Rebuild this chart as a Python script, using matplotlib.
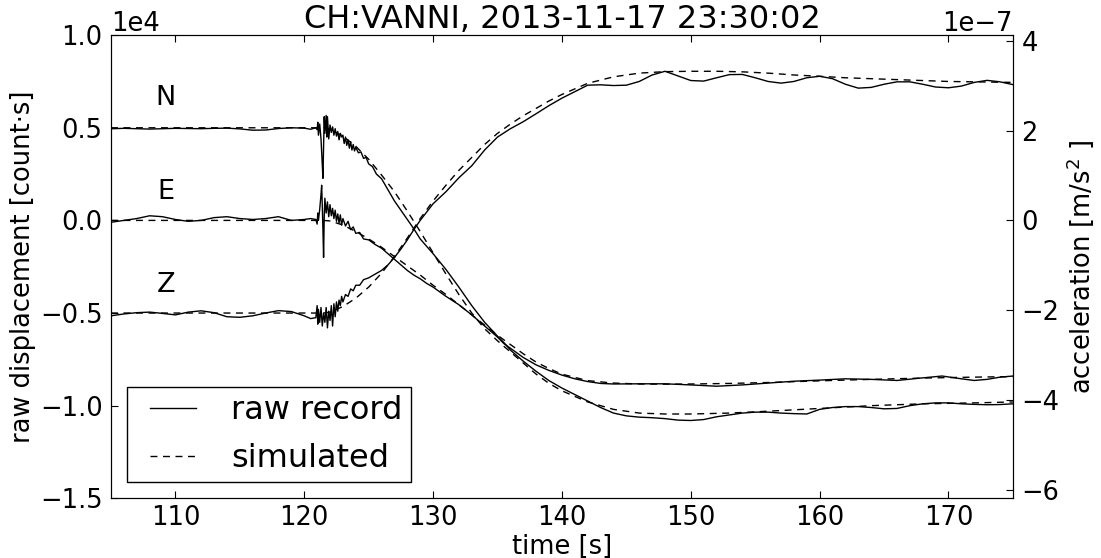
import numpy as np
import matplotlib
matplotlib.use('Agg')
import matplotlib.pyplot as plt
from matplotlib.ticker import MultipleLocator
from matplotlib.legend_handler import HandlerLine2D

# raw displacement [count*s]
t_pre = [105, 106, 107, 108, 109, 110, 111, 112, 113, 114, 115, 116, 117, 118, 119, 120, 120.5, 120.9]

n_pre = [4950, 4970, 4950, 4930, 4950, 4970, 4960, 4950, 4970, 4980, 4940, 4870, 4880, 4960, 5000, 4980, 4920, 5000]
e_pre = [-100, 0, 100, 250, 200, 50, -50, 0, 150, 200, 100, 50, 100, 200, 0, 50, 100, 50]
z_pre = [-5150, -5050, -4980, -4950, -5020, -5100, -4950, -4880, -4980, -5200, -5230, -5150, -5000, -4870, -4920, -5150, -5300, -5250]

n_t = [121.0, 121.05, 121.1, 121.2, 121.3, 121.4, 121.45, 121.5, 121.55, 121.6, 121.7, 121.75, 121.8, 121.9,
       122.0, 122.1, 122.2, 122.3, 122.4, 122.5, 122.6, 122.7, 122.8, 122.9, 123.0, 123.1, 123.2, 123.3, 123.4,
       123.5, 123.6, 123.7, 123.8, 123.9, 124.0, 124.2, 124.4, 124.6, 124.8, 125.0, 125.3, 125.6, 126.0, 126.5,
       127.0, 127.5, 128.0, 128.5, 129.0, 129.5, 130, 131, 132, 133, 134, 135, 135.5, 136, 137, 138, 139, 140,
       141, 142, 143, 144, 145, 146, 147, 148, 149, 150, 151, 152, 153, 154, 155, 156, 157, 158, 159, 160, 161,
       162, 163, 164, 165, 166, 167, 168, 169, 170, 171, 172, 173, 174, 175]
n_v = [4900, 5300, 4600, 5200, 4400, 3000, 2270, 4000, 5600, 4700, 5670, 4500, 5600, 4400,
       5150, 4750, 5050, 4600, 4950, 4550, 4800, 4350, 4700, 4500, 4600, 4150, 4500, 4050, 4350,
       3900, 4250, 3800, 4100, 3750, 3950, 3650, 3700, 3350, 3400, 3050, 2900, 2500, 2250, 1650,
       1050, 550, 50, -450, -1000, -1400, -1800, -2650, -3600, -4600, -5500, -6250, -6600, -7000, -7600, -8150, -8650, -9050,
       -9400, -9750, -10100, -10400, -10550, -10620, -10650, -10700, -10780, -10800, -10750, -10600, -10500, -10400, -10350, -10350, -10400, -10430, -10450, -10200, -10100,
       -10050, -10050, -10100, -10170, -10150, -10000, -9900, -9850, -9850, -9900, -9930, -9950, -9940, -9900]

e_t = [121.0, 121.05, 121.1, 121.2, 121.3, 121.35, 121.4, 121.45, 121.5, 121.55, 121.6, 121.7, 121.8, 121.9,
       122.0, 122.1, 122.2, 122.3, 122.4, 122.5, 122.6, 122.7, 122.8, 122.9, 123.0, 123.2, 123.4, 123.6, 123.8,
       124.0, 124.3, 124.6, 125.0, 125.5, 126.0, 126.5, 127.0, 127.5, 128.0, 128.5, 129.0, 129.5, 130, 131, 132,
       133, 134, 135, 135.5, 136, 137, 138, 139, 140, 141, 142, 143, 144, 146, 148, 150, 152, 154, 156, 158, 160,
       162, 164, 166, 168, 169.5, 171, 172, 173, 174, 175]
e_v = [-200, 400, 0, 600, 1400, 1900, 800, -500, -2000, 200, 1200, 400, 1000, 200,
       850, 250, 650, 100, 550, -50, 350, -150, 300, -250, 100, -300, -50, -500, -350,
       -700, -650, -1000, -1050, -1300, -1500, -1800, -2100, -2400, -2700, -2950, -3150, -3400, -3600, -4100, -4550,
       -5100, -5700, -6300, -6650, -6900, -7400, -7800, -8100, -8350, -8550, -8700, -8800, -8830, -8820, -8820, -8880, -8950, -8880, -8780, -8680, -8620,
       -8550, -8580, -8640, -8500, -8400, -8550, -8640, -8580, -8460, -8400]

z_t = [121.0, 121.05, 121.1, 121.2, 121.3, 121.4, 121.5, 121.6, 121.7, 121.8, 121.9,
       122.0, 122.1, 122.2, 122.3, 122.4, 122.5, 122.6, 122.7, 122.8, 122.9, 123.0, 123.2, 123.4, 123.6, 123.8,
       124.0, 124.3, 124.6, 125.0, 125.5, 126.0, 126.5, 127.0, 127.5, 128.0, 128.5, 129.0, 129.5, 130, 131, 132,
       133, 134, 135, 136, 137, 138, 139, 140, 141, 142, 143, 144, 145, 146, 147, 148, 149, 150, 151, 152, 153,
       154, 155, 156, 157, 158, 159, 160, 161, 162, 163, 164, 165, 166, 167, 168, 169, 170, 171, 172, 173, 174, 175]
z_v = [-4600, -5600, -4800, -5500, -4700, -5700, -5000, -5500, -4700, -5800, -4900,
       -5400, -4600, -5700, -4500, -5200, -4400, -4900, -4300, -4600, -4100, -4400, -4000, -4100, -3700, -3800,
       -3500, -3500, -3200, -3100, -2900, -2700, -2400, -2000, -1550, -1050, -500, 0, 450, 900, 1550, 2300,
       2950, 3800, 4500, 4950, 5330, 5760, 6200, 6600, 6950, 7300, 7320, 7280, 7300, 7500, 7850, 8050, 7800, 7550, 7520, 7700, 7870,
       7880, 7700, 7500, 7410, 7500, 7700, 7780, 7650, 7350, 7140, 7180, 7350, 7480, 7480, 7350, 7200, 7160, 7250, 7450, 7560, 7480, 7330]

# simulated traces
n_sim_t = [105, 121.5, 122, 123, 124, 125, 126, 127, 128, 129, 130, 131, 132, 133, 134, 135, 136, 137, 138, 139, 140,
           142, 144, 146, 148, 150, 153, 156, 160, 164, 168, 172, 175]
n_sim_v = [5000, 5000, 4920, 4550, 4000, 3300, 2450, 1550, 500, -600, -1750, -2900, -4000, -5000, -5850, -6500, -7100, -7700, -8300, -8800, -9200,
           -9800, -10200, -10400, -10450, -10450, -10400, -10300, -10150, -10000, -9900, -9850, -9800]
e_sim_t = [105, 121.5, 122, 123, 124, 125, 126, 127, 128, 129, 130, 131, 132, 133, 134, 135, 136, 137, 138, 139, 140,
           142, 144, 146, 148, 150, 153, 156, 160, 164, 168, 172, 175]
e_sim_v = [0, 0, -30, -250, -600, -1000, -1450, -1950, -2450, -2950, -3500, -4000, -4550, -5100, -5650, -6200, -6700, -7200, -7650, -8000, -8300,
           -8650, -8780, -8830, -8840, -8830, -8800, -8750, -8660, -8580, -8510, -8460, -8430]
z_sim_t = [105, 121.5, 122, 123, 124, 125, 126, 127, 128, 129, 130, 131, 132, 133, 134, 135, 136, 137, 138, 139, 140,
           142, 144, 146, 148, 150, 152, 154, 156, 158, 160, 162, 164, 166, 168, 170, 172, 175]
z_sim_v = [-5000, -5000, -4950, -4650, -4200, -3600, -2850, -1950, -950, 100, 1050, 1900, 2700, 3400, 4100, 4700, 5200, 5650, 6050, 6450, 6800,
           7400, 7750, 7950, 8030, 8050, 8050, 8020, 7950, 7850, 7780, 7700, 7650, 7600, 7550, 7500, 7480, 7450]

labels = ['N', 'E', 'Z']
label_y = [6590, 1530, -3510]

plt.rcParams['font.family'] = 'DejaVu Sans'
plt.rcParams['xtick.direction'] = 'in'
plt.rcParams['ytick.direction'] = 'in'
plt.rcParams['xtick.top'] = True

fig = plt.figure(figsize=(11.01, 5.58), dpi=100)
ax = fig.add_axes([0.1008, 0.107, 0.8192, 0.830])

raw = [(n_t, n_pre, n_v), (e_t, e_pre, e_v), (z_t, z_pre, z_v)]
sim = [(n_sim_t, n_sim_v), (e_sim_t, e_sim_v), (z_sim_t, z_sim_v)]
for i in range(3):
    t = t_pre + raw[i][0]
    v = raw[i][1] + raw[i][2]
    ax.plot(t, v, '-', c='k', lw=1.0, label='raw record' if i == 0 else None)
    ax.plot(sim[i][0], sim[i][1], '--', c='k', lw=1.0, dashes=(5, 4),
            label='simulated' if i == 0 else None)
    ax.text(109.27, label_y[i], labels[i], fontsize=19.5, ha='center', va='center')

ax.set_xlim(105, 175)
ax.set_ylim(-15000, 10000)
ax.yaxis.set_major_locator(MultipleLocator(5000))
ax.ticklabel_format(axis='y', style='sci', scilimits=(0, 0))
ax.tick_params(labelsize=18.5, length=5, width=0.8, pad=6)
ax.tick_params(axis='x', pad=5)
ax.yaxis.get_offset_text().set_fontsize(18.5)
ax.set_xlabel('time [s]', fontsize=18.5, labelpad=2)
ax.set_ylabel('raw displacement [count·s]', fontsize=18.5, labelpad=3)
ax.set_title('CH:VANNI, 2013-11-17 23:30:02', fontsize=23, pad=4)

ax2 = ax.twinx()
acc_top = 4.13e-7
ax2.set_ylim(-1.5 * acc_top, acc_top)
ax2.yaxis.set_major_locator(MultipleLocator(2e-7))
ax2.tick_params(labelsize=18.5, length=5, width=0.8, pad=6)
ax2.yaxis.get_offset_text().set_fontsize(18.5)
ax2.set_ylabel('acceleration [m/s$^2$ ]', fontsize=18.5)

leg = ax.legend(loc='lower left', fontsize=23, fancybox=False, framealpha=1,
                edgecolor='k', handlelength=1.9, handletextpad=1.12,
                borderpad=0.25, labelspacing=0.55,
                handler_map={plt.Line2D: HandlerLine2D(xpad=0.47)})
leg.get_frame().set_linewidth(1.0)

fig.savefig('out.png', dpi=100)
